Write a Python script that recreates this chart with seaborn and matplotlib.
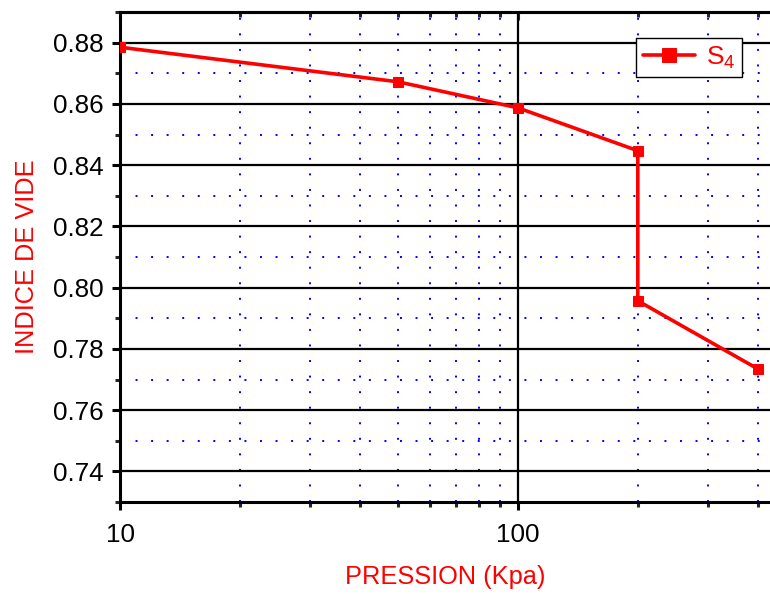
import matplotlib
matplotlib.use("Agg")
import matplotlib.pyplot as plt
from matplotlib.ticker import FixedLocator, NullFormatter, MultipleLocator
import numpy as np
import pandas as pd
import seaborn as sns

# Oedometer test, sample S4: void ratio versus applied pressure
pression = [10, 50, 100, 200, 200, 400]
indice_vide = [0.8785, 0.8672, 0.8587, 0.8447, 0.7957, 0.7735]
serie = "S$_{4}$"

x_major = [10, 100]
x_minor = [20, 30, 40, 50, 60, 70, 80, 90, 200, 300, 400]
y_major = [0.74, 0.76, 0.78, 0.80, 0.82, 0.84, 0.86, 0.88]
y_labels = ["0.74", "0.76", "0.78", "0.80", "0.82", "0.84", "0.86", "0.88"]

sns.set_theme(style="white")
plt.rcParams["font.family"] = ["Liberation Sans", "DejaVu Sans"]
plt.rcParams["mathtext.fontset"] = "custom"
plt.rcParams["mathtext.rm"] = "Liberation Sans"
plt.rcParams["mathtext.it"] = "Liberation Sans"

df = pd.DataFrame({"Pression": pression, "Indice": indice_vide, "serie": serie})

fig = plt.figure(figsize=(7.70, 5.94), dpi=100)
ax = fig.add_axes([120 / 770, 1 - 502 / 594, 1 - 120 / 770, (502 - 12) / 594])

sns.lineplot(data=df, x="Pression", y="Indice", sort=False, estimator=None,
             color="red", marker="s", markersize=7.5, markeredgecolor="red",
             linewidth=2.6, label=serie, ax=ax, zorder=5)

ax.set_xscale("log")
ax.set_xlim(10, 10 ** (650 / 398) * 10)
ax.set_ylim(0.73, 0.89)

ax.xaxis.set_major_locator(FixedLocator(x_major))
ax.xaxis.set_minor_locator(FixedLocator(x_minor))
ax.xaxis.set_minor_formatter(NullFormatter())
ax.set_xticklabels([str(v) for v in x_major])
ax.yaxis.set_major_locator(FixedLocator(y_major))
ax.set_yticklabels(y_labels)
ax.yaxis.set_minor_locator(MultipleLocator(0.01))

# grid: solid black at major positions, dotted blue at minor ones
ax.grid(which="major", color="black", linestyle="-", linewidth=1.6)
ax.grid(which="minor", color="#0000ff", linestyle=(0, (1, 7)), linewidth=1.4)
ax.set_axisbelow(True)

for side in ["left", "bottom", "top"]:
    ax.spines[side].set_linewidth(2.2)
    ax.spines[side].set_color("black")
ax.spines["right"].set_visible(False)

ax.tick_params(axis="both", which="major", direction="out", length=6, width=2.2,
               labelsize=18.7, colors="black", bottom=True, left=True)
ax.tick_params(axis="both", which="minor", direction="out", length=3.5, width=2.2,
               bottom=True, left=True)
ax.tick_params(axis="y", which="major", pad=6)
ax.tick_params(axis="x", which="major", pad=9)

# inward ticks along the top edge
top = ax.secondary_xaxis("top")
top.xaxis.set_major_locator(FixedLocator(x_major))
top.xaxis.set_minor_locator(FixedLocator(x_minor))
top.xaxis.set_major_formatter(NullFormatter())
top.xaxis.set_minor_formatter(NullFormatter())
top.tick_params(which="major", direction="in", length=6, width=2.2)
top.tick_params(which="minor", direction="in", length=3.5, width=2.2)
top.spines["top"].set_linewidth(2.2)

ax.set_xlabel("PRESSION (Kpa)", color="red", fontsize=18.3, labelpad=13)
ax.set_ylabel("INDICE DE VIDE", color="red", fontsize=18.3, labelpad=10)

leg = ax.legend(loc="upper right", bbox_to_anchor=(0.957, 0.947), borderaxespad=0,
                frameon=True, fancybox=False, edgecolor="black", framealpha=1,
                fontsize=19, handlelength=2.0, handletextpad=0.4, borderpad=0.25,
                markerscale=1.3)
leg.get_frame().set_linewidth(1.0)
for t in leg.get_texts():
    t.set_color("red")

fig.savefig("out.png", dpi=100)
